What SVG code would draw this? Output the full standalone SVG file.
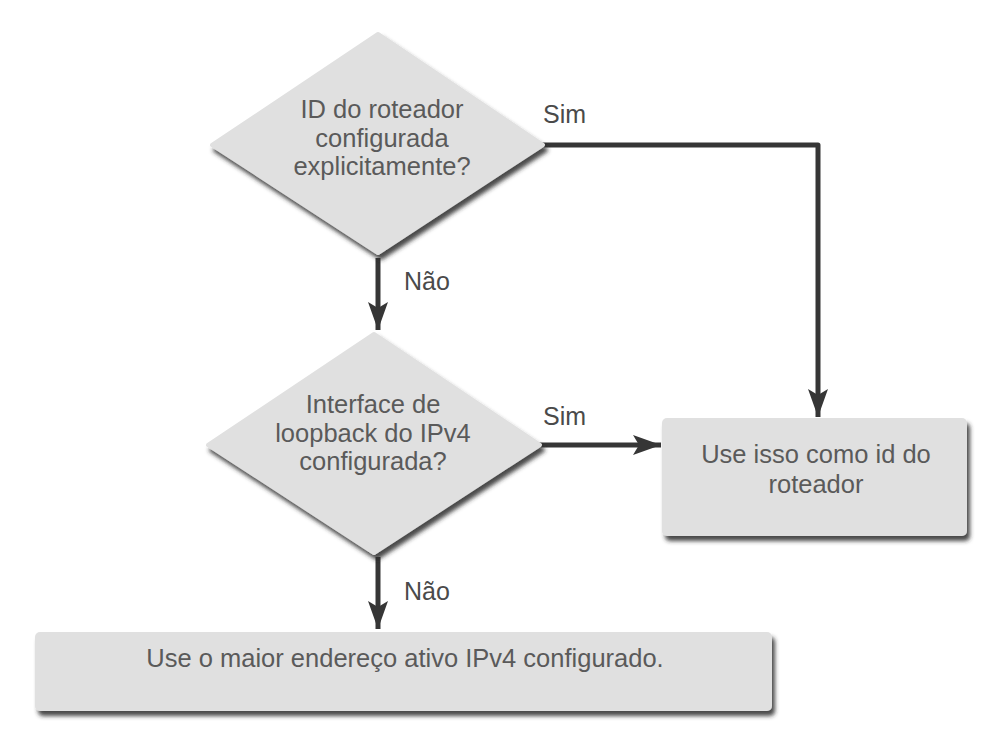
<svg xmlns="http://www.w3.org/2000/svg" width="998" height="738" viewBox="0 0 998 738">
<defs>
<style>
.shape{fill:#e0e0e0;filter:url(#sh);}
.t{font-family:"Liberation Sans",Arial,sans-serif;font-size:25.5px;fill:#5a5a5a;text-anchor:middle;}
.lbl{font-family:"Liberation Sans",Arial,sans-serif;font-size:25px;fill:#4a4a4a;}
.c{fill:none;stroke:#363636;stroke-width:5;stroke-linejoin:round;}
</style>
<filter id="sh" x="-10%" y="-10%" width="125%" height="130%">
<feDropShadow dx="3" dy="5" stdDeviation="2" flood-color="#2a2a2a" flood-opacity="0.85"/>
</filter>
<marker id="ah" viewBox="0 0 14 10" refX="14" refY="5" markerWidth="5.6" markerHeight="4" markerUnits="strokeWidth" orient="auto">
<path d="M0,0 L14,5 L0,10 L3,5 Z" fill="#363636"/>
</marker>
</defs>
<rect width="998" height="738" fill="#ffffff"/>
<g id="connectors">
<path class="c" d="M541,145 H818 V417" marker-end="url(#ah)"/>
<path class="c" d="M378,258 V330" marker-end="url(#ah)"/>
<path class="c" d="M537,445 H661" marker-end="url(#ah)"/>
<path class="c" d="M378,557 V629" marker-end="url(#ah)"/>
<text class="lbl" x="543" y="123">Sim</text>
<text class="lbl" x="404" y="290">Não</text>
<text class="lbl" x="543" y="425">Sim</text>
<text class="lbl" x="404" y="600">Não</text>
</g>
<g id="d1">
<path class="shape" d="M378,34 L543,145 L378,253 L212,145 Z" stroke="#e0e0e0" stroke-width="4" stroke-linejoin="round"/>
<text class="t" x="382" y="118">ID do roteador</text>
<text class="t" x="382" y="147">configurada</text>
<text class="t" x="382" y="175">explicitamente?</text>
</g>
<g id="d2">
<path class="shape" d="M374,334 L540,445 L374,553 L208,445 Z" stroke="#e0e0e0" stroke-width="4" stroke-linejoin="round"/>
<text class="t" x="373" y="413">Interface de</text>
<text class="t" x="373" y="442">loopback do IPv4</text>
<text class="t" x="373" y="470">configurada?</text>
</g>
<g id="b1">
<rect class="shape" x="662" y="418" width="305" height="118" rx="5"/>
<text class="t" x="816" y="463">Use isso como id do</text>
<text class="t" x="816" y="493">roteador</text>
</g>
<g id="b2">
<rect class="shape" x="35" y="632" width="737" height="79" rx="5"/>
<text class="t" x="405" y="667">Use o maior endereço ativo IPv4 configurado.</text>
</g>
</svg>
